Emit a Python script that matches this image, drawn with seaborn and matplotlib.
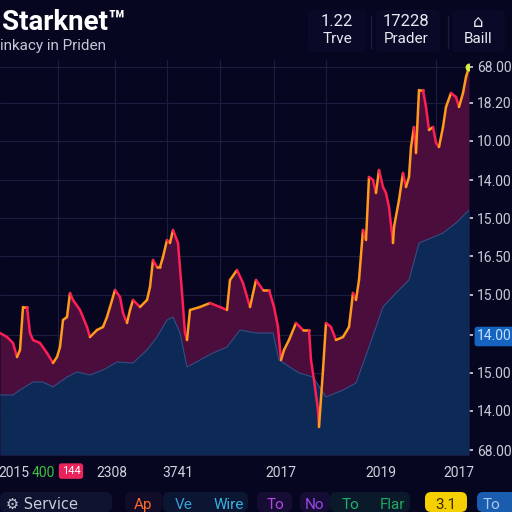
import numpy as np
import pandas as pd
import matplotlib
matplotlib.use("Agg")
import matplotlib.pyplot as plt
from matplotlib.patches import FancyBboxPatch
import seaborn as sns

# ---- data ----
price_t = [0, 7, 13, 17, 20, 23, 27, 30, 33, 40, 47, 53, 57, 60, 63, 67, 70, 73, 80, 87,
           90, 97, 103, 107, 110, 115, 120, 123, 127, 130, 133, 140, 147, 150, 153, 157, 160,
           163, 167, 170, 173, 178, 182, 185, 187, 190, 200, 210, 220, 227, 230, 237, 243,
           250, 256, 263, 269, 274, 278, 281, 284, 289, 296, 303, 309, 311, 314, 318, 319,
           323, 326, 331, 336, 343, 349, 353, 356, 359, 363, 366, 369, 373, 376, 379, 383,
           386, 389, 393, 394, 399, 403, 406, 409, 411, 414, 416, 419, 423, 426, 429, 433,
           436, 439, 443, 446, 451, 456, 459, 463, 466, 469]
price = [122, 118, 112, 98, 105, 148, 148, 122, 115, 112, 102, 92, 98, 108, 135, 138, 162,
         155, 145, 128, 118, 125, 128, 138, 148, 165, 158, 142, 132, 145, 155, 148, 155, 168,
         195, 188, 188, 198, 215, 212, 225, 212, 162, 122, 115, 145, 148, 152, 148, 145, 175,
         185, 172, 148, 175, 165, 165, 148, 128, 95, 105, 115, 132, 125, 125, 95, 75, 45, 28,
         85, 132, 128, 115, 118, 128, 162, 155, 175, 225, 215, 278, 275, 262, 285, 268, 262,
         248, 212, 228, 255, 282, 268, 278, 308, 328, 302, 365, 365, 348, 325, 328, 312, 308,
         328, 348, 362, 358, 348, 362, 378, 388]

base_t = [0, 13, 20, 33, 43, 53, 67, 77, 90, 103, 117, 133, 147, 157, 167, 173, 180, 187,
          200, 213, 227, 240, 256, 273, 279, 299, 313, 326, 343, 356, 369, 383, 396, 409,
          419, 443, 456, 469]
base = [60, 60, 65, 73, 73, 68, 78, 83, 80, 85, 93, 92, 105, 118, 135, 138, 122, 88, 95,
        102, 108, 125, 122, 122, 95, 82, 78, 58, 65, 72, 108, 148, 162, 175, 212, 222, 232, 245]

y_tick_vals = [388, 352, 314, 275, 237, 199, 160, 120, 82, 44, 5]
y_tick_labels = ["68.00", "18.20", "10.00", "14.00", "15.00", "16.50", "15.00", "14.00",
                 "15.00", "14.00", "68.00"]
x_tick_vals = [14, 43, 71, 112, 178, 281, 381, 459]
x_tick_labels = ["2015", "400", "144", "2308", "3741", "2017", "2019", "2017"]
grid_x = [58, 115, 167, 220, 274, 326, 381, 436]

header_vals = ["1.22", "17228", "\u2302"]
header_names = ["Trve", "Prader", "Baill"]
tabs = ["Ap", "Ve", "Wire", "To", "No", "To", "Flar"]
tab_colors = ["#ff6a2a", "#3a9fd8", "#3ab0e0", "#b845e6", "#9a48e8", "#1fb070", "#22a860"]

bg = "#060620"
sns.set_theme(style="dark", rc={"axes.facecolor": bg, "figure.facecolor": bg})
plt.rcParams["font.family"] = ["Roboto", "DejaVu Sans"]

fig = plt.figure(figsize=(5.12, 5.12), dpi=100)
ax = fig.add_axes([0, 1 - 455 / 512, 469 / 512, 395 / 512])

df_p = pd.DataFrame({"t": price_t, "v": price})
df_b = pd.DataFrame({"t": base_t, "v": base})

ax.fill_between(df_p.t, df_p.v, 0, color="#4a0d3c", lw=0, zorder=1)
ax.fill_between(df_b.t, df_b.v, 0, color="#0d2a56", lw=0, zorder=2)
sns.lineplot(data=df_b, x="t", y="v", ax=ax, color="#2a5288", lw=0.8, zorder=3)

# price line: rising parts orange, falling parts red
for i in range(len(price) - 1):
    c = "#ff9a1c" if price[i + 1] >= price[i] else "#ff1f55"
    ax.plot(price_t[i:i + 2], price[i:i + 2], color=c, lw=1.8, zorder=4,
            solid_capstyle="round")
ax.scatter([price_t[-1]], [price[-1]], s=22, color="#d6f040", zorder=5)

ax.set_xlim(0, 469)
ax.set_ylim(0, 395)
ax.set_xlabel("")
ax.set_ylabel("")
ax.yaxis.tick_right()
ax.set_yticks(y_tick_vals)
ax.set_yticklabels(y_tick_labels)
ax.set_xticks(x_tick_vals)
ax.set_xticklabels(x_tick_labels)
ax.set_xticks(grid_x, minor=True)
ax.tick_params(axis="y", colors="#c9ccd8", labelsize=10, length=3, pad=3, right=True)
ax.tick_params(axis="x", which="major", colors="#d0d2dc", labelsize=10, length=0, pad=8)
ax.tick_params(axis="x", which="minor", length=0)
ax.grid(False)
ax.grid(axis="y", which="major", color="#1b1e40", lw=0.8)
ax.grid(axis="x", which="minor", color="#1b1e40", lw=0.8)
for s in ax.spines.values():
    s.set_visible(False)

xl = ax.get_xticklabels()
xl[1].set_color("#3ec23e")
xl[2].set_color("white")
xl[2].set_fontsize(8)
xl[2].set_bbox(dict(boxstyle="round,pad=0.25", fc="#e8245a", ec="none"))
yl = ax.get_yticklabels()
yl[7].set_color("#bfe2ff")
yl[7].set_bbox(dict(boxstyle="round,pad=0.2", fc="#1663c0", ec="none"))

# header
fig.text(2 / 512, 1 - 22 / 512, "Starknet\u2122", color="white", fontsize=20,
         fontweight="bold", va="center", ha="left")
fig.text(0, 1 - 46 / 512, "inkacy in Priden", color="#c4c8d6", fontsize=11,
         va="center", ha="left")
for x0, x1 in [(308, 366), (376, 440), (452, 505)]:
    fig.patches.append(FancyBboxPatch((x0 / 512, 1 - 52 / 512), (x1 - x0) / 512, 42 / 512,
                                      boxstyle="round,pad=0,rounding_size=0.01",
                                      fc="#080a27", ec="none", transform=fig.transFigure))
hx = [337, 406, 478]
for x, v, n in zip(hx, header_vals, header_names):
    fig.text(x / 512, 1 - 22 / 512, v, color="#e8eaf2", fontsize=12, ha="center",
             va="center", family=["DejaVu Sans"] if v == "\u2302" else None)
    fig.text(x / 512, 1 - 39 / 512, n, color="#e8eaf2", fontsize=11, ha="center",
             va="center")
for x in [371, 448]:
    fig.add_artist(plt.Line2D([x / 512, x / 512], [1 - 48 / 512, 1 - 16 / 512],
                              color="#1a1e44", lw=1))

# bottom tab bar
tab_boxes = [(0, 112, "#0f1330"), (125, 162, "#110d28"), (163, 248, "#0a1632"),
             (257, 292, "#160d34"), (300, 330, "#160d34"), (330, 410, "#0a1a2a")]
for x0, x1, c in tab_boxes:
    fig.patches.append(FancyBboxPatch((x0 / 512, 0), (x1 - x0) / 512, 20 / 512,
                                      boxstyle="round,pad=0,rounding_size=0.012",
                                      fc=c, ec="none", transform=fig.transFigure))
fig.text(6 / 512, 1 - 504 / 512, "\u2699 Service", color="#c8ccd8", fontsize=10.5,
         va="center", ha="left", family=["DejaVu Sans"])
tx = [143, 184, 229, 275, 315, 350, 392]
for x, t, c in zip(tx, tabs, tab_colors):
    fig.text(x / 512, 1 - 505 / 512, t, color=c, fontsize=11, ha="center", va="center")
fig.patches.append(FancyBboxPatch((425 / 512, 0), 42 / 512, 20 / 512,
                                  boxstyle="round,pad=0,rounding_size=0.012",
                                  fc="#f4d000", ec="none", transform=fig.transFigure))
fig.patches.append(FancyBboxPatch((477 / 512, 0), 40 / 512, 20 / 512,
                                  boxstyle="round,pad=0,rounding_size=0.012",
                                  fc="#1a5cae", ec="none", transform=fig.transFigure))
fig.text(446 / 512, 1 - 505 / 512, "3.1", color="#3a2a00", fontsize=11, ha="center",
         va="center")
fig.text(491 / 512, 1 - 505 / 512, "To", color="#a8ccf0", fontsize=11, ha="center",
         va="center")

fig.savefig("out.png", dpi=100, facecolor=bg)
